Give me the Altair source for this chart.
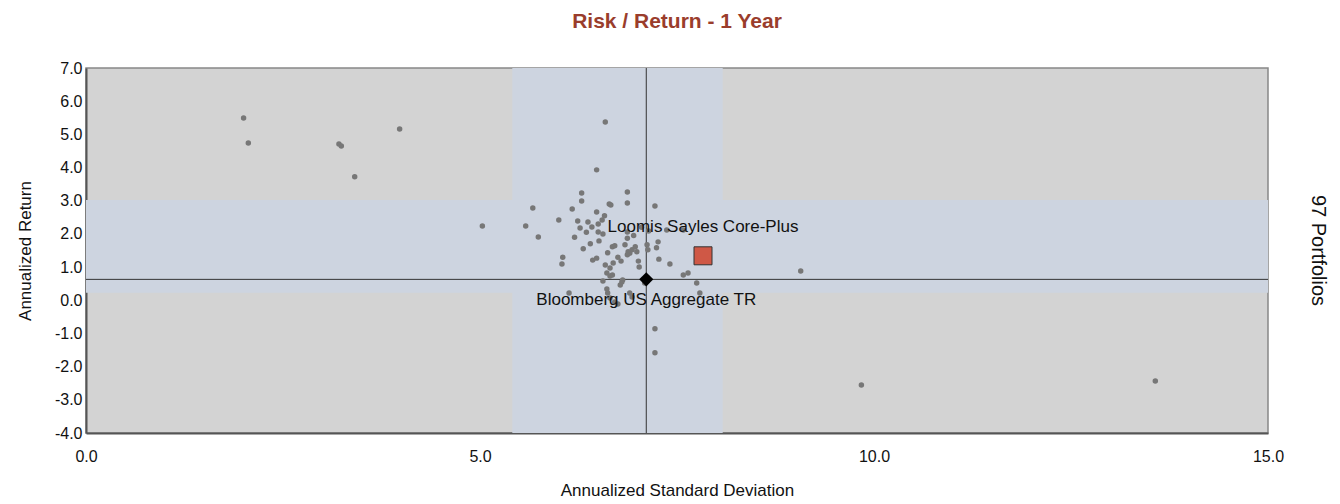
import altair as alt
import pandas as pd

# Peer portfolios (annualized standard deviation, annualized return)
peer_sd = [2.00, 2.06, 3.21, 3.24, 3.41, 3.98, 5.03, 6.59, 6.48, 9.07, 9.84, 13.57, 7.22, 7.22,
           6.29, 6.29, 6.87, 6.87, 5.67, 6.17, 6.64, 6.66, 6.48, 6.00, 6.24, 6.27, 5.58, 5.74,
           6.37, 6.42, 6.50, 6.55, 6.50, 6.56, 6.51, 6.31, 7.22, 6.62, 6.68, 6.71, 6.87, 6.84,
           6.88, 6.90, 6.93, 6.99, 6.87, 6.97, 7.12, 7.13, 7.26, 7.24, 7.27, 7.41, 7.58, 7.64,
           6.59, 6.65, 6.69, 6.79, 6.48, 6.43, 7.01, 6.61, 6.68, 6.05, 6.04, 6.65, 6.56, 6.78,
           6.80, 6.81, 6.61, 6.62, 6.13, 6.75, 6.71, 6.65, 6.90, 6.93, 7.09, 7.75, 7.79, 7.14,
           7.37, 7.58, 6.87, 6.35, 6.20, 6.95, 7.05, 6.40, 6.75, 6.58, 7.02]
peer_ret = [5.49, 4.74, 4.71, 4.65, 3.72, 5.16, 2.24, 5.37, 3.93, 0.88, -2.55, -2.43, -0.86, -1.58,
            3.23, 2.99, 3.26, 2.93, 2.78, 2.75, 2.90, 2.87, 2.66, 2.42, 2.39, 2.18, 2.24, 1.91,
            2.36, 2.21, 2.30, 2.42, 2.06, 2.00, 1.79, 1.55, 2.84, 1.43, 1.61, 1.64, 1.87, 1.67,
            1.46, 1.42, 1.52, 1.46, 1.37, 1.61, 1.67, 1.52, 1.76, 1.58, 1.24, 1.09, 0.76, 0.82,
            1.06, 0.97, 1.12, 1.18, 1.27, 1.21, 1.18, 0.82, 0.76, 1.30, 1.09, 0.73, 0.58, 0.46,
            0.55, 0.61, 0.34, 0.22, 0.22, -0.11, -0.05, 0.07, 0.22, 0.10, 0.52, 0.52, 0.22, 2.09,
            2.12, 2.12, 2.06, 2.05, 1.90, 1.95, 2.20, 1.70, 1.30, 2.55, 1.00]

fund_name = ["Loomis Sayles Core-Plus"]
fund_sd = [7.83]
fund_ret = [1.34]

bench_name = ["Bloomberg US Aggregate TR"]
bench_sd = [7.11]
bench_ret = [0.63]

# shaded bands around the benchmark
vband_x = [5.41]
vband_x2 = [8.08]
hband_y = [0.23]
hband_y2 = [3.02]

x_ticks = [0, 5, 10, 15]
y_ticks = [-4, -3, -2, -1, 0, 1, 2, 3, 4, 5, 6, 7]

W, H = 1182, 365
FONT = "Liberation Sans"
LBL = "replace(format(datum.value, '.1f'), '\u2212', '-')"

xs = alt.Scale(domain=[0, 15], nice=False, zero=False)
ys = alt.Scale(domain=[-4, 7], nice=False, zero=False)

peers = pd.DataFrame({"sd": peer_sd, "ret": peer_ret})
fund = pd.DataFrame({"sd": fund_sd, "ret": fund_ret, "name": fund_name})
bench = pd.DataFrame({"sd": bench_sd, "ret": bench_ret, "name": bench_name})

band_color = "#cdd4e0"

axis_common = dict(grid=False, ticks=False, domainColor="#555", domainWidth=2,
                   labelFontSize=16, titleFontSize=17, labelFont=FONT, titleFont=FONT,
                   labelColor="#111", titleColor="#111", titleFontWeight="normal",
                   labelFlush=False, labelOverlap=False, labelExpr=LBL)
xaxis = alt.Axis(values=x_ticks, title="Annualized Standard Deviation",
                 labelPadding=15, titlePadding=18, **axis_common)
yaxis = alt.Axis(values=y_ticks, title="Annualized Return",
                 labelPadding=4, titlePadding=20, **axis_common)


def X(field):
    return alt.X(field, scale=xs, axis=xaxis)


def Y(field):
    return alt.Y(field, scale=ys, axis=yaxis)


vband = alt.Chart(pd.DataFrame({"x": vband_x, "x2": vband_x2, "y": [-4], "y2": [7]})).mark_rect(
    color=band_color).encode(x=X("x:Q"), x2="x2:Q", y=Y("y:Q"), y2="y2:Q")

hband = alt.Chart(pd.DataFrame({"x": [0], "x2": [15], "y": hband_y, "y2": hband_y2})).mark_rect(
    color=band_color).encode(x=X("x:Q"), x2="x2:Q", y=Y("y:Q"), y2="y2:Q")

vrule = alt.Chart(bench).mark_rule(color="#333", strokeWidth=1).encode(
    x=X("sd:Q"), y=alt.value(0), y2=alt.value(H))
hrule = alt.Chart(bench).mark_rule(color="#333", strokeWidth=1).encode(
    y=Y("ret:Q"), x=alt.value(0), x2=alt.value(W))

pts = alt.Chart(peers).mark_point(filled=True, shape="circle", size=30, color="#777777", opacity=1).encode(
    x=X("sd:Q"), y=Y("ret:Q"))

bmark = alt.Chart(bench).mark_point(filled=True, shape="diamond", size=200, color="#000000", opacity=1).encode(
    x=X("sd:Q"), y=Y("ret:Q"))
btext = alt.Chart(bench).mark_text(font=FONT, fontSize=17, color="#111", dy=21).encode(
    x=X("sd:Q"), y=Y("ret:Q"), text="name:N")

fmark = alt.Chart(fund).mark_point(filled=True, shape="square", size=324, color="#cf5846", opacity=1,
                                   stroke="#333", strokeWidth=1).encode(
    x=X("sd:Q"), y=Y("ret:Q"))
ftext = alt.Chart(fund).mark_text(font=FONT, fontSize=17, color="#111", dy=-29).encode(
    x=X("sd:Q"), y=Y("ret:Q"), text="name:N")

side = alt.Chart(pd.DataFrame({"t": ["97 Portfolios"]})).mark_text(
    font=FONT, fontSize=20, color="#111", angle=90).encode(
    x=alt.value(W + 50), y=alt.value(H / 2), text="t:N")

chart = alt.layer(vband, hband, vrule, hrule, pts, bmark, btext, fmark, ftext, side).properties(
    width=W, height=H,
    title=alt.TitleParams("Risk / Return - 1 Year", font=FONT, fontSize=21, fontWeight="bold",
                          color="#9a3d2c", anchor="middle", offset=28),
    autosize=alt.AutoSizeParams(type="none"),
    padding={"left": 78, "top": 60, "right": 64, "bottom": 70},
).configure_view(fill="#d3d3d3", stroke="#888888", strokeWidth=1.5)

chart.save("out.html", embed_options={"renderer": "svg", "actions": False})
